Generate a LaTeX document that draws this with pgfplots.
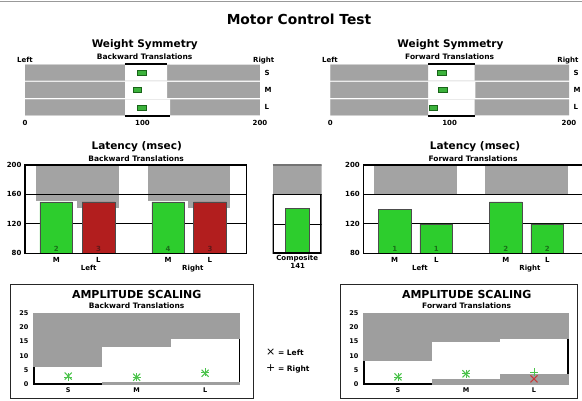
\documentclass[border=0pt]{standalone}
\usepackage{fontspec}
\setmainfont{DejaVu Sans}
\usepackage{pgfplots}
\pgfplotsset{compat=1.18}

\definecolor{bandgray}{RGB}{163,163,163}
\definecolor{ampgray}{RGB}{158,158,158}
\definecolor{wsgreen}{RGB}{60,178,60}
\definecolor{wsgreendark}{RGB}{25,100,25}
\definecolor{bargreen}{RGB}{45,205,45}
\definecolor{barred}{RGB}{178,30,30}
\definecolor{mkgreen}{RGB}{75,195,75}
\definecolor{mkred}{RGB}{200,55,55}
\definecolor{numgreen}{RGB}{25,110,25}
\definecolor{numred}{RGB}{95,25,25}

\newcommand{\fnt}[1]{\fontsize{#1}{#1}\selectfont\bfseries}

\pgfplotsset{
  base/.style={scale only axis, anchor=south west, clip=false,
    axis line style={draw=none}, major tick length=0pt, tick style={draw=none},
    /pgf/number format/assume math mode=true,
    tick label style={font=\fnt{7}}},
  latency/.style={base, clip=true, axis on top,
    axis line style={draw=black, line width=1.5pt},
    ymin=80, ymax=200, ytick={80,120,160,200},
    xticklabel style={anchor=base, yshift=-9.4pt}},
  amp/.style={base, xmin=0, xmax=3, ymin=0, ymax=25, ytick={0,5,10,15,20,25},
    xtick={0.5,1.5,2.5}, xticklabels={S,M,L},
    tick label style={font=\fnt{6.5}},
    yticklabel style={xshift=-2pt},
    xticklabel style={anchor=base, yshift=-8.3pt}},
  ws/.style={base, xmin=0, xmax=200, ymin=0.5, ymax=3.5,
    xtick={0,100,200}, ytick={1,2,3}, yticklabels={L,M,S}, yticklabel pos=right,
    xticklabel style={anchor=base, yshift=-9.7pt},
    yticklabel style={anchor=west, xshift=1pt}},
}

\begin{document}
\begin{tikzpicture}
\useasboundingbox (0,0) rectangle (582pt,401pt);
\draw[black!40, line width=1pt] (0,399.5pt) -- (582pt,399.5pt);

% ---------- Title
\node[anchor=base, font=\fnt{13.8}] at (299pt,376pt) {Motor Control Test};

% ---------- Weight symmetry, backward
\begin{axis}[ws, at={(25pt,285pt)}, width=235pt, height=52pt]
\addplot[xbar, bar shift=0pt, bar width=16pt, fill=bandgray, draw=none] coordinates {(200,1) (200,2) (200,3)};
\addplot[xbar, bar shift=0pt, bar width=16pt, fill=white, draw=none] coordinates {(121,3) (121,2) (123.5,1)};
\addplot[xbar, bar shift=0pt, bar width=16pt, fill=bandgray, draw=none] coordinates {(85,3) (85,2) (85,1)};
\addplot[black, line width=1.6pt] coordinates {(85,3.5) (121,3.5)};
\addplot[black, line width=1.6pt] coordinates {(85,0.5) (123.5,0.5)};
\addplot[only marks, mark=square*, mark size=2.6pt, mark options={xscale=1.6, fill=wsgreen, draw=wsgreendark, line width=0.4pt}] coordinates {(99.3,3) (95.3,2) (99.3,1)};
\end{axis}
\node[anchor=base, font=\fnt{10.5}] at (144.8pt,353.5pt) {Weight Symmetry};
\node[anchor=base, font=\fnt{7.5}] at (144.7pt,341pt) {Backward Translations};
\node[anchor=base, font=\fnt{7}] at (25pt,338.5pt) {Left};
\node[anchor=base, font=\fnt{7}] at (263.7pt,338.5pt) {Right};

% ---------- Weight symmetry, forward
\begin{axis}[ws, at={(330.3pt,285pt)}, width=238.7pt, height=52pt]
\addplot[xbar, bar shift=0pt, bar width=16pt, fill=bandgray, draw=none] coordinates {(200,1) (200,2) (200,3)};
\addplot[xbar, bar shift=0pt, bar width=16pt, fill=white, draw=none] coordinates {(121,3) (121.5,2) (121,1)};
\addplot[xbar, bar shift=0pt, bar width=16pt, fill=bandgray, draw=none] coordinates {(82,3) (82,2) (82,1)};
\addplot[black, line width=1.6pt] coordinates {(82,3.5) (121,3.5)};
\addplot[black, line width=1.6pt] coordinates {(82,0.5) (121,0.5)};
\addplot[only marks, mark=square*, mark size=2.6pt, mark options={xscale=1.6, fill=wsgreen, draw=wsgreendark, line width=0.4pt}] coordinates {(93.4,3) (94.3,2) (86.5,1)};
\end{axis}
\node[anchor=base, font=\fnt{10.5}] at (450.5pt,353.5pt) {Weight Symmetry};
\node[anchor=base, font=\fnt{7.5}] at (449.7pt,341pt) {Forward Translations};
\node[anchor=base, font=\fnt{7}] at (330pt,338.5pt) {Left};
\node[anchor=base, font=\fnt{7}] at (568pt,338.5pt) {Right};

% ---------- Latency, backward
\begin{axis}[latency, at={(25pt,147.7pt)}, width=221.7pt, height=88.3pt,
  xmin=0.26, xmax=5.51, xtick={1,2,3.65,4.64}, xticklabels={M,L,M,L}]
\addplot[fill=bandgray, draw=none] coordinates {(0.52,151) (1.5,151) (1.5,200) (0.52,200)};
\addplot[fill=bandgray, draw=none] coordinates {(1.5,141) (2.49,141) (2.49,200) (1.5,200)};
\addplot[fill=bandgray, draw=none] coordinates {(3.17,151) (4.13,151) (4.13,200) (3.17,200)};
\addplot[fill=bandgray, draw=none] coordinates {(4.13,141) (5.12,141) (5.12,200) (4.13,200)};
\addplot[black, line width=0.8pt] coordinates {(0.26,160) (5.51,160)};
\addplot[black, line width=0.8pt] coordinates {(0.26,120) (5.51,120)};
\addplot[ybar, bar width=0.775, bar shift=0pt, fill=bargreen, draw=black!70] coordinates {(1,150) (3.65,150)};
\addplot[ybar, bar width=0.775, bar shift=0pt, fill=barred, draw=black!70] coordinates {(2,150) (4.64,150)};
\node[anchor=base, font=\fnt{7}, text=numgreen] at (axis cs:1,83.1) {2};
\node[anchor=base, font=\fnt{7}, text=numred] at (axis cs:2,83.1) {3};
\node[anchor=base, font=\fnt{7}, text=numgreen] at (axis cs:3.65,83.1) {4};
\node[anchor=base, font=\fnt{7}, text=numred] at (axis cs:4.64,83.1) {3};
\end{axis}
\node[anchor=base, font=\fnt{10.5}] at (136.7pt,251.5pt) {Latency (msec)};
\node[anchor=base, font=\fnt{7.5}] at (136.2pt,239.3pt) {Backward Translations};
\node[anchor=base, font=\fnt{7}] at (88.7pt,130.5pt) {Left};
\node[anchor=base, font=\fnt{7}] at (192.8pt,130.5pt) {Right};

% ---------- Latency, composite
\begin{axis}[base, clip=true, at={(272.7pt,147.7pt)}, width=49pt, height=88.3pt,
  xmin=0, xmax=1, ymin=80, ymax=200, xtick=\empty, ytick=\empty]
\addplot[fill=bandgray, draw=none] coordinates {(0,160) (1,160) (1,200) (0,200)};
\addplot[black!55, line width=2pt] coordinates {(0,200) (1,200)};
\addplot[black, line width=0.6pt] coordinates {(0,120) (1,120)};
\addplot[ybar, bar width=0.5, bar shift=0pt, fill=bargreen, draw=black!70] coordinates {(0.5,141)};
\addplot[black, line width=3pt] coordinates {(0,160) (0,80) (1,80) (1,160)};
\addplot[black, line width=1.5pt] coordinates {(0,160) (1,160)};
\end{axis}
\node[anchor=base, font=\fnt{7}] at (297.2pt,140pt) {Composite};
\node[anchor=base, font=\fnt{7}] at (297.7pt,132.7pt) {141};

% ---------- Latency, forward
\begin{axis}[latency, at={(363.3pt,147.7pt)}, width=222.7pt, height=88.3pt,
  xmin=0.245, xmax=5.6, xtick={1,2,3.67,4.67}, xticklabels={M,L,M,L}]
\addplot[fill=bandgray, draw=none] coordinates {(0.51,160) (1.51,160) (1.51,200) (0.51,200)};
\addplot[fill=bandgray, draw=none] coordinates {(1.51,160) (2.49,160) (2.49,200) (1.51,200)};
\addplot[fill=bandgray, draw=none] coordinates {(3.17,160) (4.19,160) (4.19,200) (3.17,200)};
\addplot[fill=bandgray, draw=none] coordinates {(4.19,160) (5.16,160) (5.16,200) (4.19,200)};
\addplot[black, line width=0.8pt] coordinates {(0.245,160) (5.6,160)};
\addplot[black, line width=0.8pt] coordinates {(0.245,120) (5.6,120)};
\addplot[ybar, bar width=0.786, bar shift=0pt, fill=bargreen, draw=black!70] coordinates {(1,140) (2,120) (3.67,150) (4.67,120)};
\node[anchor=base, font=\fnt{7}, text=numgreen] at (axis cs:1,83.1) {1};
\node[anchor=base, font=\fnt{7}, text=numgreen] at (axis cs:2,83.1) {1};
\node[anchor=base, font=\fnt{7}, text=numgreen] at (axis cs:3.67,83.1) {2};
\node[anchor=base, font=\fnt{7}, text=numgreen] at (axis cs:4.67,83.1) {2};
\end{axis}
\node[anchor=base, font=\fnt{10.5}] at (475pt,251.5pt) {Latency (msec)};
\node[anchor=base, font=\fnt{7.5}] at (473pt,239.3pt) {Forward Translations};
\node[anchor=base, font=\fnt{7}] at (420pt,130.5pt) {Left};
\node[anchor=base, font=\fnt{7}] at (530pt,130.5pt) {Right};

% ---------- Amplitude scaling boxes
\draw[black!85, line width=0.8pt] (10pt,117pt) rectangle (253pt,3pt);
\draw[black!85, line width=0.8pt] (340pt,117pt) rectangle (577pt,3pt);

% ---------- Amplitude scaling, backward
\begin{axis}[amp, at={(34pt,17pt)}, width=205.3pt, height=70.7pt]
\addplot[black, line width=1.5pt] coordinates {(0,25) (0,0) (3,0) (3,25)};
\addplot[fill=ampgray, draw=none] coordinates {(-0.015,6) (1,6) (1,25) (-0.015,25)};
\addplot[fill=ampgray, draw=none] coordinates {(1,13) (2,13) (2,25) (1,25)};
\addplot[fill=ampgray, draw=none] coordinates {(2,16) (3.015,16) (3.015,25) (2,25)};
\addplot[fill=ampgray, draw=none] coordinates {(1,-0.3) (3.015,-0.3) (3.015,0.7) (1,0.7)};
\addplot[only marks, mark=x, mark size=5pt, mkgreen, line width=1pt] coordinates {(0.5,2.8) (1.5,2.4) (2.5,3.8)};
\addplot[only marks, mark=+, mark size=4pt, mkgreen, line width=1pt] coordinates {(0.5,2.4) (1.5,2.4) (2.5,4.1)};
\end{axis}
\node[anchor=base, font=\fnt{11}] at (136.7pt,102.7pt) {AMPLITUDE SCALING};
\node[anchor=base, font=\fnt{7.5}] at (136.7pt,92.7pt) {Backward Translations};

% ---------- Legend
\node[anchor=base west, font=\fnt{7.5}, inner sep=0pt] at (266pt,45pt) {{\fontsize{11}{11}\selectfont\mdseries ×} = Left};
\node[anchor=base west, font=\fnt{7.5}, inner sep=0pt] at (266pt,29pt) {{\fontsize{11}{11}\selectfont\mdseries +} = Right};

% ---------- Amplitude scaling, forward
\begin{axis}[amp, at={(364pt,17pt)}, width=204pt, height=70.7pt]
\addplot[black, line width=1.5pt] coordinates {(0,25) (0,0) (3,0) (3,25)};
\addplot[fill=ampgray, draw=none] coordinates {(-0.015,8) (1,8) (1,25) (-0.015,25)};
\addplot[fill=ampgray, draw=none] coordinates {(1,15) (2,15) (2,25) (1,25)};
\addplot[fill=ampgray, draw=none] coordinates {(2,16) (3.015,16) (3.015,25) (2,25)};
\addplot[fill=ampgray, draw=none] coordinates {(1,-0.3) (2,-0.3) (2,1.8) (1,1.8)};
\addplot[fill=ampgray, draw=none] coordinates {(2,-0.3) (3.015,-0.3) (3.015,3.5) (2,3.5)};
\addplot[only marks, mark=x, mark size=5pt, mkgreen, line width=1pt] coordinates {(0.5,2.5) (1.5,3.6)};
\addplot[only marks, mark=x, mark size=5pt, mkred, line width=1pt] coordinates {(2.5,1.8)};
\addplot[only marks, mark=+, mark size=4pt, mkgreen, line width=1pt] coordinates {(0.5,2.3) (1.5,3.6) (2.5,4.2)};
\end{axis}
\node[anchor=base, font=\fnt{11}] at (466.7pt,102.7pt) {AMPLITUDE SCALING};
\node[anchor=base, font=\fnt{7.5}] at (466.7pt,92.7pt) {Forward Translations};

\end{tikzpicture}
\end{document}
